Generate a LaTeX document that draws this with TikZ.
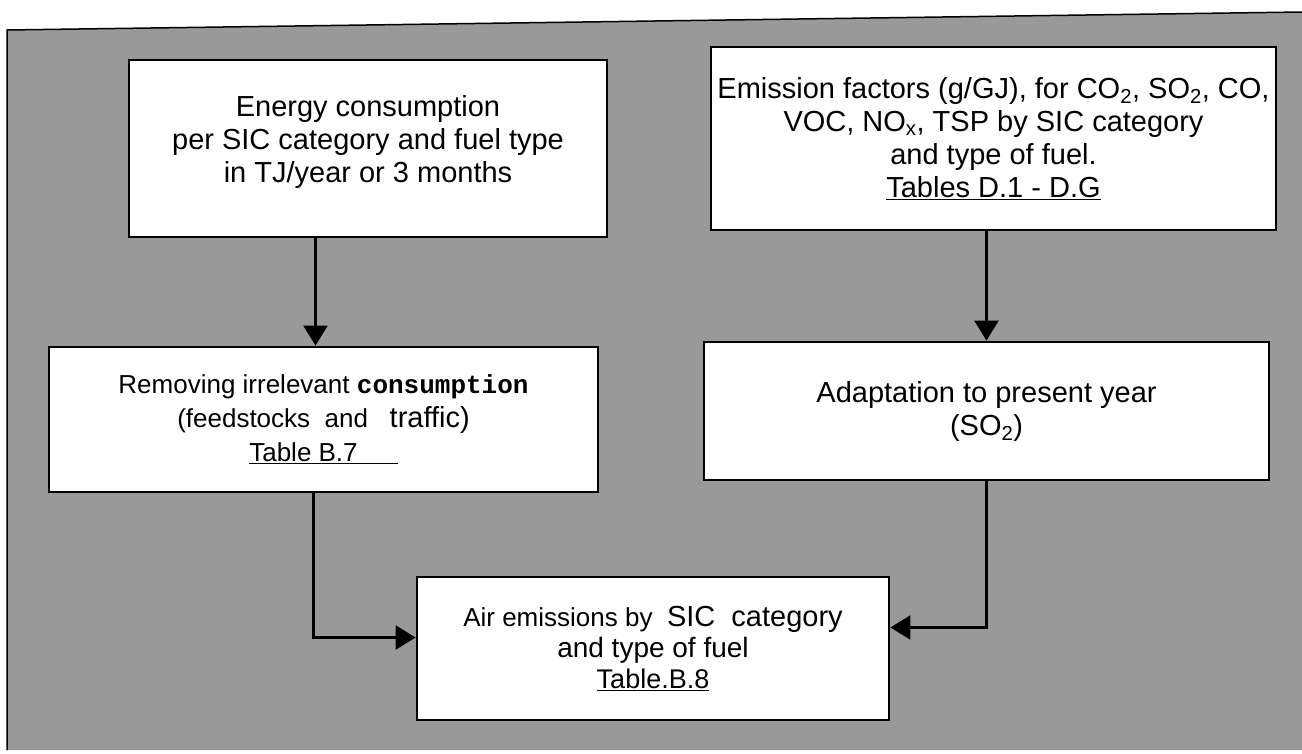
\documentclass[tikz,border=0pt]{standalone}
\usepackage{fontspec}
\setmainfont{Liberation Sans}
\setmonofont{Liberation Mono}
\usepackage{tikz}
\usetikzlibrary{arrows.meta, positioning, calc}

\begin{document}
\begin{tikzpicture}[
          x=1pt, y=-1pt,
          procbox/.style={draw, fill=white, line width=2.8pt, align=center, inner sep=2pt},
          bigtext/.style={font=\fontsize{29}{33}\selectfont},
          flow/.style={line width=2.2pt, -{Triangle[length=20pt,width=24pt]}}
        ]
          \useasboundingbox (0,0) rectangle (1302,753);
          % scanned grey ground
          \fill[black!40] (7,30) -- (1302,12) -- (1302,750) -- (7,750) -- cycle;
          \draw[line width=1.5pt] (7,750) -- (7,30) -- (1302,12);

          \node[procbox, bigtext, minimum width=478pt, minimum height=177pt] (energy) at (368,148.5)
            {Energy consumption\\per SIC category and fuel type\\in TJ/year or 3 months\\[-13pt]};
          \node[procbox, bigtext, minimum width=565pt, minimum height=183pt] (factors) at (993.5,138.5)
            {Emission factors (g/GJ), for CO\textsubscript{2}, SO\textsubscript{2}, CO,\\VOC, NO\textsubscript{x}, TSP by SIC category\\and type of fuel.\\\underline{Tables D.1 - D.G}};
          \node[procbox, font=\fontsize{26}{34}\selectfont, minimum width=549pt, minimum height=145pt] (removing) at (323.5,419.5)
            {Removing irrelevant {\bfseries\ttfamily consumption}\\(feedstocks\ \ and\ \ \ {\fontsize{29}{34}\selectfont traffic)}\\\underline{Table B.7\hspace{40pt}}};
          \node[procbox, bigtext, minimum width=565pt, minimum height=138pt] (adapt) at (986.5,411)
            {Adaptation to present year\\(SO\textsubscript{2})};
          \node[procbox, font=\fontsize{26}{31}\selectfont, minimum width=472pt, minimum height=143pt] (airem) at (653,648.5)
            {Air\ emissions\ by\ \ {\fontsize{29}{31}\selectfont SIC\ \ category}\\{\fontsize{28}{31}\selectfont and type of fuel}\\{\fontsize{27}{36}\selectfont\underline{Table.B.8}}};

          \draw[flow] ([xshift=-8pt]removing.north |- energy.south) -- ([xshift=-8pt]removing.north);
          \draw[flow] (factors.south -| adapt.north) -- (adapt.north);
          \draw[flow] ([xshift=-10pt]removing.south) |- ([yshift=11pt]airem.west);
          \draw[flow] (adapt.south) |- ([yshift=21pt]airem.east);
        \end{tikzpicture}
\end{document}
